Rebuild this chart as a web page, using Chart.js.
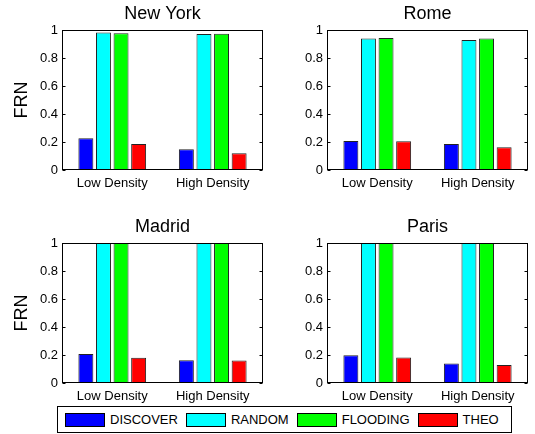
<!DOCTYPE html>
<html>
<head>
<meta charset="utf-8">
<script src="https://cdn.jsdelivr.net/npm/chart.js@4.4.1/dist/chart.umd.min.js"></script>
<style>
  body { margin: 0; background: #fff; font-family: "Liberation Sans", Arial, sans-serif; }
  #wrap { position: relative; width: 535px; height: 434px; }
  #wrap canvas { position: absolute; }
  #legend { position: absolute; left: 57px; top: 406px; width: 453px; height: 25px; border: 1px solid #000;
            display: flex; align-items: center; font-size: 13px; color: #000; background: #fff; }
  .sw { width: 38px; height: 12px; border: 1px solid #000; margin-left: 8px; }
  .sw:first-child { margin-left: 7px; }
  .lab { margin-left: 5px; }
</style>
</head>
<body>
<div id="wrap"><div id="legend"></div></div>
<script>
// DATA
const categories = ["Low Density", "High Density"];
const seriesNames = ["DISCOVER", "RANDOM", "FLOODING", "THEO"];
const seriesColors = ["#0000ff", "#00ffff", "#00ff00", "#ff0000"];
const yTickLabels = ["0", "0.2", "0.4", "0.6", "0.8", "1"];
const cities = ["New York", "Rome", "Madrid", "Paris"];

// one row per series (DISCOVER, RANDOM, FLOODING, THEO), [low, high]
const newYork = [[0.226, 0.148], [0.983, 0.971], [0.976, 0.974], [0.186, 0.119]];
const rome    = [[0.207, 0.186], [0.940, 0.929], [0.943, 0.940], [0.205, 0.162]];
const madrid  = [[0.207, 0.162], [1, 1], [1, 1], [0.181, 0.160]];
const paris   = [[0.198, 0.140], [1, 1], [1, 1], [0.183, 0.129]];
const cityValues = [newYork, rome, madrid, paris];

Chart.defaults.font.family = '"Liberation Sans", Arial, sans-serif';
Chart.defaults.color = "#000";

// panel placement in the page
const panelPos = [[0, 0], [265, 0], [0, 213], [265, 213]];

// MATLAB style box around the axes with small inward ticks, plus the title
const boxPlugin = {
  id: "panelBox",
  afterDatasetsDraw(chart, args, opts) {
    const ctx = chart.ctx;
    const a = chart.chartArea;
    const l = Math.round(a.left) + 0.5, r = Math.round(a.right) - 0.5;
    const t = Math.round(a.top) + 0.5, b = Math.round(a.bottom) - 0.5;
    ctx.save();
    ctx.strokeStyle = "#000";
    ctx.lineWidth = 1;
    ctx.strokeRect(l, t, r - l, b - t);
    const ys = chart.scales.y;
    ctx.beginPath();
    ys.ticks.forEach(tk => {
      const y = Math.round(ys.getPixelForValue(tk.value)) + 0.5;
      ctx.moveTo(l, y); ctx.lineTo(l + 3, y);
      ctx.moveTo(r, y); ctx.lineTo(r - 3, y);
    });
    ctx.stroke();
    // title centred over the plot box
    ctx.fillStyle = "#000";
    ctx.font = '18px "Liberation Sans", Arial, sans-serif';
    ctx.textAlign = "center";
    ctx.textBaseline = "middle";
    ctx.fillText(opts.text, (a.left + a.right) / 2, a.top - 16);
    ctx.restore();
  }
};

const wrap = document.getElementById("wrap");
cities.forEach((city, i) => {
  const cv = document.createElement("canvas");
  cv.width = 268;
  cv.height = 200;
  cv.style.left = panelPos[i][0] + "px";
  cv.style.top = panelPos[i][1] + "px";
  wrap.insertBefore(cv, document.getElementById("legend"));
  const leftCol = i % 2 === 0;

  new Chart(cv, {
    type: "bar",
    data: {
      labels: categories,
      datasets: seriesNames.map((name, k) => ({
        label: name,
        data: cityValues[i][k],
        backgroundColor: seriesColors[k],
        borderColor: "#222",
        borderWidth: 1,
        categoryPercentage: 0.7,
        barPercentage: 0.85
      }))
    },
    options: {
      responsive: false,
      animation: false,
      layout: { padding: { top: 30, right: 5, left: 0, bottom: 0 } },
      plugins: {
        legend: { display: false },
        tooltip: { enabled: false },
        panelBox: { text: city }
      },
      scales: {
        x: {
          grid: { display: false, drawTicks: false },
          border: { display: false },
          ticks: { font: { size: 13 }, padding: 6, maxRotation: 0 },
          afterFit(s) { s.height = 30; }
        },
        y: {
          min: 0,
          max: 1,
          grid: { display: false, drawTicks: false },
          border: { display: false },
          ticks: {
            stepSize: 0.2,
            padding: 4,
            font: { size: 13 },
            callback: v => yTickLabels[Math.round(v * 5)]
          },
          title: {
            display: leftCol,
            text: "FRN",
            font: { size: 18 },
            padding: { top: 11, bottom: 0 }
          },
          afterFit(s) { s.width = 62; }
        }
      }
    },
    plugins: [boxPlugin]
  });
});

// legend built from the series
const legend = document.getElementById("legend");
seriesNames.forEach((name, k) => {
  const sw = document.createElement("div");
  sw.className = "sw";
  sw.style.background = seriesColors[k];
  const lab = document.createElement("span");
  lab.className = "lab";
  lab.textContent = name;
  legend.appendChild(sw);
  legend.appendChild(lab);
});
</script>
</body>
</html>
